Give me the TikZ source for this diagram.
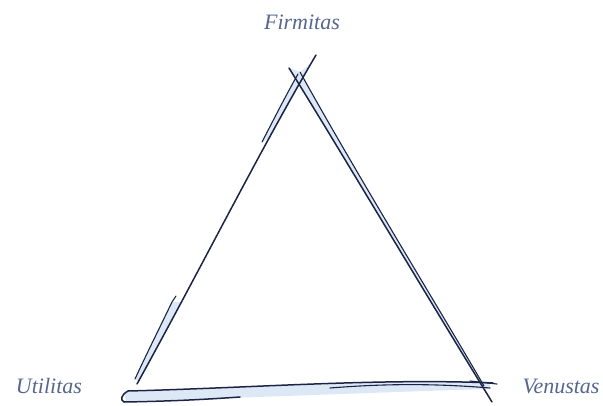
\documentclass[tikz,border=0pt]{standalone}
\usepackage{fontspec}
\setmainfont{Liberation Serif}
\begin{document}
\begin{tikzpicture}[x=1pt,y=-1pt,
  lab/.style={font=\itshape\fontsize{22}{24}\selectfont, text=labc},
  ink/.style={draw=inkc, line width=1.5pt, line cap=round, line join=round},
  thin/.style={draw=inkc, line width=1.1pt, line cap=round, line join=round},
  band/.style={fill=bandc}]
\definecolor{labc}{HTML}{56668F}
\definecolor{inkc}{HTML}{1C2446}
\definecolor{bandc}{HTML}{DCE8F6}
\useasboundingbox (0,0) rectangle (603,405);
% labels
\node[lab] (F) at (302,22) {Firmitas};
\node[lab] (U) at (49,386) {Utilitas};
\node[lab] (V) at (561,386) {Venustas};
% light bands
\fill[band] (172,302) -- (181,302) -- (139,382) -- (135,379) -- cycle;
\fill[band] (298,74) -- (312,62) -- (270,138) -- (262,142) -- cycle;
\fill[band] (289,68) .. controls (340,150) and (420,285) .. (492,402)
  -- (484,386) .. controls (440,310) and (360,180) .. (300,72) -- cycle;
\fill[band] (124,392) .. controls (250,388) and (380,380) .. (490,382) -- (490,389) .. controls (380,392) and (250,398) .. (126,401) -- cycle;
% left side
\draw[ink] (316,55) .. controls (260,150) and (200,270) .. (137,384);
\draw[thin] (298,74) .. controls (285,97) and (275,117) .. (262,142);
\draw[thin] (176,296) -- (172,302) .. controls (160,327) and (147,353) .. (135,379);
% right side
\draw[ink] (289,68) .. controls (340,150) and (420,285) .. (492,402);
\draw[thin] (300,72) .. controls (360,180) and (440,310) .. (484,386);
% bottom
\draw[ink] (128,391) .. controls (250,388) and (380,378) .. (493,383);
\draw[ink] (128,391) .. controls (121,395) and (120,400) .. (124,402)
  .. controls (180,401) and (210,399) .. (240,397);
\draw[thin] (330,388) .. controls (380,384) and (430,383) .. (490,388);
\draw[thin] (470,381) -- (497,384);
\end{tikzpicture}
\end{document}
